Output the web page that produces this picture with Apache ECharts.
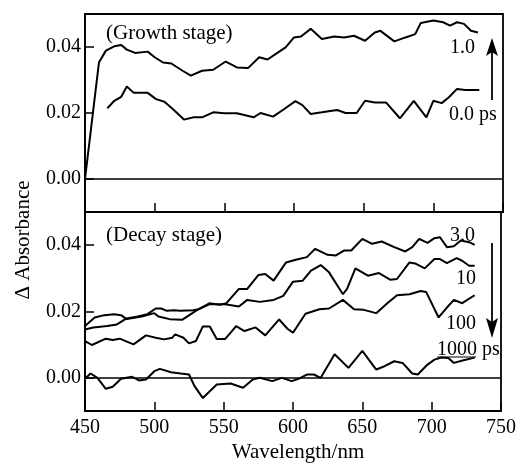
<!DOCTYPE html>
<html>
<head>
<meta charset="utf-8">
<script src="https://cdn.jsdelivr.net/npm/echarts@6.0.0/dist/echarts.min.js"></script>
<style>
  html, body { margin: 0; padding: 0; background: #fff; }
  #main { width: 519px; height: 470px; }
</style>
</head>
<body>
<div id="main"></div>
<script>
// wavelength (nm) / delta absorbance pairs
var growth1ps = [[450,0],[460,0.0353],[465,0.0389],[471,0.0402],[476,0.0406],[480,0.0392],[486,0.0382],[495,0.0386],[500,0.0369],[506,0.0353],[512,0.035],[520,0.0328],[526,0.0313],[534,0.0328],[542,0.0331],[551,0.0356],[559,0.0338],[567,0.0336],[575,0.0369],[581,0.0362],[587,0.0379],[594,0.0399],[600,0.0429],[605,0.0432],[612,0.0455],[620,0.0424],[629,0.0432],[636,0.0429],[643,0.0434],[651,0.0419],[658,0.0444],[662,0.0449],[672,0.0417],[680,0.0429],[687,0.0439],[691,0.0473],[700,0.048],[707,0.0475],[712,0.0465],[717,0.0475],[722,0.047],[727,0.0449],[732,0.0444]];
var growth0ps = [[466,0.0214],[471,0.0237],[476,0.0249],[480,0.028],[485,0.0261],[495,0.0261],[501,0.0242],[507,0.0234],[513,0.0212],[521,0.018],[528,0.0187],[534,0.0187],[542,0.0202],[550,0.0199],[559,0.0199],[571,0.0187],[576,0.02],[585,0.0189],[593,0.0212],[601,0.0236],[606,0.0224],[612,0.0197],[620,0.0202],[631,0.0209],[637,0.02],[645,0.02],[651,0.0237],[658,0.0232],[666,0.0232],[676,0.0184],[686,0.0237],[695,0.0187],[700,0.0237],[706,0.023],[711,0.0247],[717,0.0273],[723,0.027],[733,0.027]];

var decay3ps = [[450,0.0146],[456,0.0152],[466,0.0156],[473,0.0161],[480,0.0179],[488,0.0185],[495,0.0192],[501,0.0209],[505,0.0209],[509,0.0202],[514,0.0204],[519,0.0202],[528,0.0204],[532,0.0207],[540,0.0225],[547,0.022],[552,0.0225],[561,0.0268],[567,0.0268],[575,0.031],[580,0.0313],[586,0.0293],[595,0.0348],[602,0.0356],[610,0.0364],[616,0.0389],[625,0.0371],[631,0.0369],[637,0.0384],[642,0.0384],[650,0.0419],[657,0.0404],[664,0.0411],[673,0.0394],[681,0.0381],[686,0.0394],[691,0.0419],[697,0.0407],[702,0.0421],[706,0.0424],[711,0.0394],[716,0.0397],[721,0.0414],[727,0.0409],[731,0.0401]];
var decay10ps = [[450,0.0156],[457,0.0182],[464,0.0189],[471,0.0192],[476,0.0189],[480,0.0177],[491,0.0185],[500,0.0195],[503,0.0185],[511,0.0177],[520,0.0175],[531,0.0205],[540,0.0222],[551,0.0222],[561,0.0215],[567,0.0235],[576,0.0229],[586,0.0235],[593,0.0247],[600,0.029],[607,0.0293],[613,0.0323],[620,0.034],[626,0.0318],[636,0.0252],[639,0.0268],[645,0.033],[654,0.0308],[662,0.0316],[670,0.0296],[675,0.0298],[684,0.0348],[688,0.0345],[695,0.033],[702,0.0358],[706,0.0358],[711,0.0346],[718,0.0361],[722,0.0353],[727,0.0338],[731,0.0338]];
var decay100ps = [[450,0.0111],[455,0.0099],[465,0.0118],[470,0.0114],[475,0.0118],[485,0.0101],[494,0.0128],[501,0.0121],[507,0.0116],[513,0.0121],[515,0.0131],[521,0.0121],[525,0.0104],[530,0.0111],[535,0.0155],[540,0.0155],[545,0.0117],[551,0.0117],[559,0.0156],[565,0.0141],[573,0.0152],[580,0.0128],[590,0.0176],[596,0.0148],[600,0.0136],[609,0.0193],[619,0.0207],[626,0.0209],[636,0.0235],[644,0.0207],[651,0.0205],[660,0.0195],[668,0.0225],[675,0.0249],[684,0.0252],[692,0.0262],[696,0.0259],[705,0.0182],[711,0.0212],[716,0.0235],[722,0.0225],[731,0.0249]];
var decay1000ps = [[450,-0.0003],[454,0.0013],[459,0.0],[465,-0.0033],[470,-0.0027],[476,-0.0003],[484,0.0003],[489,-0.0008],[494,-0.0005],[500,0.002],[504,0.0027],[512,0.0017],[519,0.0013],[525,0.001],[529,-0.0025],[535,-0.0061],[545,-0.002],[555,-0.0017],[564,-0.003],[571,-0.0005],[576,0],[585,-0.001],[592,0],[599,-0.001],[604,-0.0003],[610,0.001],[615,0.001],[620,0],[630,0.0071],[640,0.003],[650,0.0081],[660,0.0025],[666,0.0035],[673,0.005],[679,0.0045],[686,0.0013],[690,0.001],[697,0.004],[702,0.0055],[707,0.0061],[712,0.006],[716,0.0045],[723,0.0053],[731,0.0061]];

var yTicks = [0, 0.02, 0.04];
var xMin = 450, xMax = 750, xStep = 50;
var yMin = -0.01, yMax = 0.05;

var FONT = '"Liberation Serif", "Times New Roman", serif';

function xAxisOf(idx, showLabel) {
    return {
        type: 'value', gridIndex: idx, min: xMin, max: xMax, interval: xStep,
        axisLine: { show: true, onZero: false, lineStyle: { color: '#000', width: 1.8 } },
        axisTick: { show: true, inside: true, length: 9, lineStyle: { color: '#000', width: 1.5 } },
        axisLabel: { show: showLabel, color: '#000', fontFamily: FONT, fontSize: 20, margin: 7 },
        splitLine: { show: false }
    };
}
function yAxisOf(idx) {
    return {
        type: 'value', gridIndex: idx, min: yMin, max: yMax,
        axisLine: { show: true, lineStyle: { color: '#000', width: 1.8 } },
        axisTick: { show: true, inside: true, length: 9, customValues: yTicks, lineStyle: { color: '#000', width: 1.5 } },
        axisLabel: {
            color: '#000', fontFamily: FONT, fontSize: 20, margin: 4, customValues: yTicks,
            formatter: function (v) { return v.toFixed(2); }
        },
        splitLine: { show: false }
    };
}
function curve(data, idx) {
    return {
        type: 'line', xAxisIndex: idx, yAxisIndex: idx, data: data,
        showSymbol: false, symbol: 'none', silent: true,
        lineStyle: { color: '#000', width: 2 }
    };
}
// zero line per panel
function zeroLine(s) {
    s.markLine = {
        silent: true, symbol: 'none', label: { show: false },
        lineStyle: { color: '#000', width: 1.6, type: 'solid' },
        data: [{ yAxis: 0 }]
    };
    return s;
}
function txt(x, y, s, align) {
    return {
        type: 'text', x: x, y: y,
        style: { text: s, fill: '#000', font: '20px ' + FONT, align: align || 'left', verticalAlign: 'middle' }
    };
}

var chart = echarts.init(document.getElementById('main'), null, { renderer: 'canvas' });
chart.setOption({
    animation: false,
    backgroundColor: '#fff',
    grid: [
        { left: 85, top: 14, width: 418, height: 198, show: true, borderColor: '#000', borderWidth: 1.8 },
        { left: 85, top: 212, width: 418, height: 199, show: true, borderColor: '#000', borderWidth: 1.8 }
    ],
    xAxis: [xAxisOf(0, false), xAxisOf(1, true)],
    yAxis: [yAxisOf(0), yAxisOf(1)],
    series: [
        zeroLine(curve(growth1ps, 0)),
        curve(growth0ps, 0),
        zeroLine(curve(decay3ps, 1)),
        curve(decay10ps, 1),
        curve(decay100ps, 1),
        curve(decay1000ps, 1)
    ],
    graphic: [
        { type: 'text', x: 106, y: 33, style: { text: '(Growth stage)', fill: '#000', font: '21px ' + FONT, verticalAlign: 'middle' } },
        { type: 'text', x: 106, y: 235, style: { text: '(Decay stage)', fill: '#000', font: '21px ' + FONT, verticalAlign: 'middle' } },
        txt(475, 48, '1.0', 'right'),
        txt(449, 115, '0.0 ps'),
        txt(475, 236, '3.0', 'right'),
        txt(476, 279, '10', 'right'),
        txt(476, 324, '100', 'right'),
        txt(437, 350, '1000 ps'),
        { type: 'line', shape: { x1: 437, y1: 357, x2: 476, y2: 357 }, style: { stroke: '#000', lineWidth: 1.2 } },
        // growth arrow (up)
        { type: 'line', shape: { x1: 492, y1: 100, x2: 492, y2: 52 }, style: { stroke: '#000', lineWidth: 1.8 } },
        { type: 'polygon', shape: { points: [[492, 38], [486, 56], [492, 52], [498, 56]] }, style: { fill: '#000' } },
        // decay arrow (down)
        { type: 'line', shape: { x1: 492, y1: 243, x2: 492, y2: 325 }, style: { stroke: '#000', lineWidth: 1.8 } },
        { type: 'polygon', shape: { points: [[492, 338], [486, 318], [492, 322], [498, 318]] }, style: { fill: '#000' } },
        { type: 'text', x: 298, y: 452, style: { text: 'Wavelength/nm', fill: '#000', font: '21px ' + FONT, align: 'center', verticalAlign: 'middle' } },
        { type: 'text', x: 23, y: 240, rotation: Math.PI / 2, style: { text: 'Δ Absorbance', fill: '#000', font: '21px ' + FONT, align: 'center', verticalAlign: 'middle' } }
    ]
});
</script>
</body>
</html>
